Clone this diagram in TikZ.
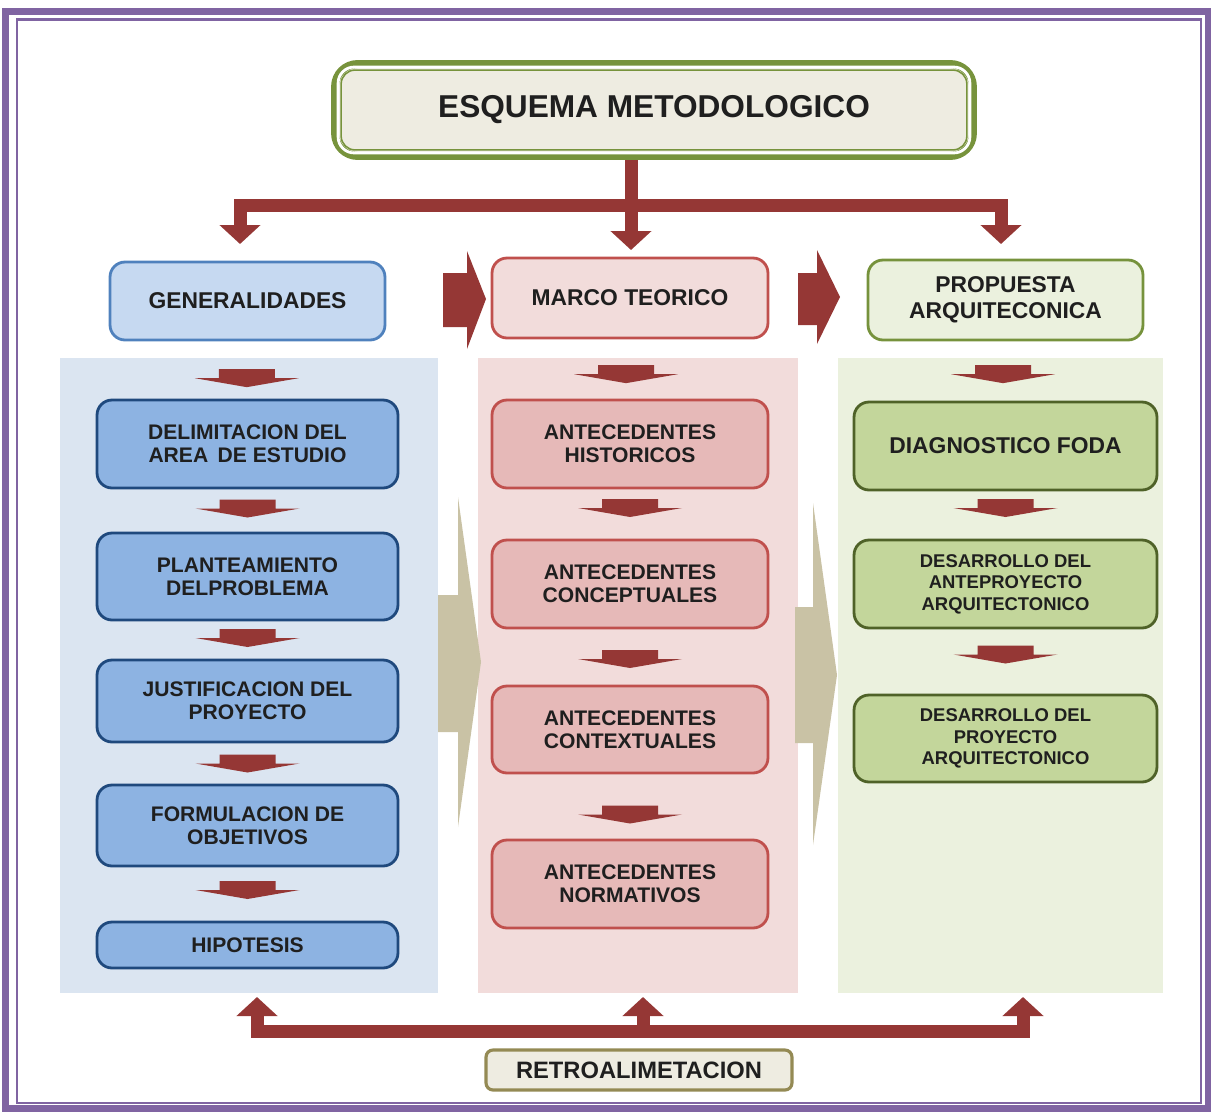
\documentclass[tikz,border=0pt]{standalone}
\usepackage{fontspec}
\setmainfont{Liberation Sans}
\usetikzlibrary{arrows.meta,calc}
\definecolor{purp}{HTML}{8064A2}
\definecolor{arrred}{HTML}{953735}
\definecolor{titlegreen}{HTML}{77933C}
\definecolor{titlefill}{HTML}{EEECE1}
\definecolor{bluepanel}{HTML}{DBE5F1}
\definecolor{bluehead}{HTML}{C6D9F1}
\definecolor{blueheadline}{HTML}{4F81BD}
\definecolor{bluebox}{HTML}{8DB3E2}
\definecolor{blueline}{HTML}{1F497D}
\definecolor{pinkpanel}{HTML}{F2DCDB}
\definecolor{pinkhead}{HTML}{F2DCDB}
\definecolor{pinkbox}{HTML}{E6B9B8}
\definecolor{pinkline}{HTML}{C0504D}
\definecolor{greenpanel}{HTML}{EBF1DE}
\definecolor{greenhead}{HTML}{EBF1DE}
\definecolor{greenbox}{HTML}{C3D69B}
\definecolor{greenline}{HTML}{4F6228}
\definecolor{greenheadline}{HTML}{76923C}
\definecolor{tan}{HTML}{C9C2A5}
\definecolor{retrofill}{HTML}{EEECE1}
\definecolor{retroline}{HTML}{948A54}
\tikzset{redtip/.tip={Triangle[width=0.8cm,length=0.38cm]}}
\begin{document}
\begin{tikzpicture}[x=0.02cm,y=-0.02cm,
  txt/.style={text=black!88},
  panel/.style={draw=none,inner sep=0},
  rbox/.style={rounded corners=0.3cm,line width=1.6pt,inner sep=0,align=center,txt,
    font=\bfseries\fontsize{12}{13.3}\selectfont},
  hbox/.style={rbox,font=\bfseries\fontsize{13}{14.8}\selectfont},
  bluehd/.style={hbox,fill=bluehead,draw=blueheadline},
  pinkhd/.style={hbox,fill=pinkhead,draw=pinkline},
  greenhd/.style={hbox,fill=greenhead,draw=greenheadline},
  bluebx/.style={rbox,fill=bluebox,draw=blueline,minimum width=6.02cm},
  pinkbx/.style={rbox,fill=pinkbox,draw=pinkline,minimum width=5.52cm},
  greenbx/.style={rbox,fill=greenbox,draw=greenline,minimum width=6.06cm},
  redline/.style={draw=arrred,line width=0.26cm,line join=miter},
  downarr/.pic={\fill[arrred] (-28,-9) -- (28,-9) -- (28,0) -- (52,0) -- (0,9) -- (-52,0) -- (-28,0) -- cycle;}
]
\useasboundingbox (0,0) rectangle (1211,1112);
% frame
\draw[purp,line width=4pt] (5.5,11.5) rectangle (1208.5,1109);
\draw[purp,line width=1.2pt] (17,19.5) rectangle (1201,1103);

% title
\node[rounded corners=0.45cm,draw=titlegreen,line width=4.5pt,fill=titlefill,
  minimum width=12.76cm,minimum height=1.84cm,inner sep=0] (title) at (654,110) {};
\draw[white,line width=1.6pt,rounded corners=0.32cm] ($(title.south west)+(7,-7)$) rectangle ($(title.north east)+(-7,7)$);
\draw[titlegreen,line width=0.9pt,rounded corners=0.28cm] ($(title.south west)+(10,-10)$) rectangle ($(title.north east)+(-10,10)$);
\node[txt,font=\bfseries\fontsize{18}{20}\selectfont] (titletxt) at (title.center) {ESQUEMA METODOLOGICO};

% panels
\node[panel,fill=bluepanel,minimum width=7.56cm,minimum height=12.7cm] (pblue) at (249,675.5) {};
\node[panel,fill=pinkpanel,minimum width=6.4cm,minimum height=12.7cm] (ppink) at (638,675.5) {};
\node[panel,fill=greenpanel,minimum width=6.5cm,minimum height=12.7cm] (pgreen) at (1000.5,675.5) {};

% headers
\node[bluehd,minimum width=5.5cm,minimum height=1.56cm] (gen) at (247.5,301) {GENERALIDADES};
\node[pinkhd,minimum width=5.52cm,minimum height=1.6cm] (marco) at (630,298) {MARCO TEORICO};
\node[greenhd,minimum width=5.5cm,minimum height=1.6cm] (prop) at (1005.5,300) {PROPUESTA\\ARQUITECONICA};

% blue boxes
\node[bluebx,minimum height=1.76cm] (b1) at (247.5,444) {DELIMITACION DEL\\AREA\, DE ESTUDIO};
\node[bluebx,minimum height=1.74cm] (b2) at (247.5,576.5) {PLANTEAMIENTO\\DELPROBLEMA};
\node[bluebx,minimum height=1.64cm] (b3) at (247.5,701) {JUSTIFICACION DEL\\PROYECTO};
\node[bluebx,minimum height=1.62cm] (b4) at (247.5,825.5) {FORMULACION DE\\OBJETIVOS};
\node[bluebx,minimum height=0.92cm] (b5) at (247.5,945) {HIPOTESIS};

% pink boxes
\node[pinkbx,minimum height=1.76cm] (p1) at (630,444) {ANTECEDENTES\\HISTORICOS};
\node[pinkbx,minimum height=1.76cm] (p2) at (630,584) {ANTECEDENTES\\CONCEPTUALES};
\node[pinkbx,minimum height=1.74cm] (p3) at (630,729.5) {ANTECEDENTES\\CONTEXTUALES};
\node[pinkbx,minimum height=1.76cm] (p4) at (630,884) {ANTECEDENTES\\NORMATIVOS};

% green boxes
\node[greenbx,minimum height=1.76cm,font=\bfseries\fontsize{13}{14}\selectfont] (g1) at (1005.5,446) {DIAGNOSTICO FODA};
\node[greenbx,minimum height=1.76cm,font=\bfseries\fontsize{10.5}{12.2}\selectfont] (g2) at (1005.5,584) {DESARROLLO DEL\\ANTEPROYECTO\\ARQUITECTONICO};
\node[greenbx,minimum height=1.74cm,font=\bfseries\fontsize{10.5}{12.2}\selectfont] (g3) at (1005.5,738.5) {DESARROLLO DEL\\PROYECTO\\ARQUITECTONICO};

% small down arrows
\pic at ($(pblue.north)!0.5!(b1.north)+(-1.5,0)$) {downarr};
\pic at ($(b1.south)!0.5!(b2.north)+(0,-2)$) {downarr};
\pic at ($(b2.south)!0.5!(b3.north)+(0,-2)$) {downarr};
\pic at ($(b3.south)!0.5!(b4.north)$) {downarr};
\pic at ($(b4.south)!0.5!(b5.north)+(0,-4)$) {downarr};
\pic at ($(ppink.north)!0.5!(p1.north)+(-8,-4)$) {downarr};
\pic at ($(p1.south)!0.5!(p2.north)+(0,-6)$) {downarr};
\pic at ($(p2.south)!0.5!(p3.north)+(0,2)$) {downarr};
\pic at ($(p3.south)!0.5!(p4.north)+(0,8)$) {downarr};
\pic at ($(pgreen.north)!0.5!(g1.north)+(0,-5)$) {downarr};
\pic at ($(g1.south)!0.5!(g2.north)+(0,-7)$) {downarr};
\pic at ($(g2.south)!0.5!(g3.north)+(0,-7)$) {downarr};

% big red right arrows between headers
\fill[arrred] (443,273) -- (467,273) -- (467,251) -- (486,299) -- (467,349) -- (467,327) -- (443,327) -- cycle;
\fill[arrred] (798,273) -- (817,273) -- (817,250) -- (840,297) -- (817,344) -- (817,325) -- (798,325) -- cycle;

% tan arrows between panels
\fill[tan] (438,595) -- (458,595) -- (458,497) -- (481,662) -- (458,827) -- (458,732) -- (438,732) -- cycle;
\fill[tan] (795,607) -- (813,607) -- (813,503) -- (837,675) -- (813,845) -- (813,743) -- (795,743) -- cycle;

% top distribution connector
\coordinate (jt) at (631,205.5);
\coordinate (cl) at (240,205.5);
\coordinate (cr) at (1001,205.5);
\coordinate (tl) at (240,244);
\coordinate (tm) at (631,250);
\coordinate (tr) at (1001,244);
\draw[redline,-{redtip}] (title.south -| jt) -- (tm);
\draw[redline,{redtip}-{redtip}] (tl) -- (cl) -- (cr) -- (tr);

% bottom feedback connector
\node[rounded corners=0.14cm,draw=retroline,line width=1.8pt,fill=retrofill,
  minimum width=6.12cm,minimum height=0.8cm,inner sep=0,txt,
  font=\bfseries\fontsize{13.5}{15}\selectfont] (retro) at (639,1070) {RETROALIMETACION};
\coordinate (bl) at (257,1031);
\coordinate (bm) at (643,1031);
\coordinate (br) at (1023,1031);
\coordinate (ul) at (257,997);
\coordinate (um) at (643,997);
\coordinate (ur) at (1023,997);
\draw[redline,{redtip}-{redtip}] (ul) -- (bl) -- (br) -- (ur);
\draw[redline,-{redtip}] (bm) -- (um);
\end{tikzpicture}
\end{document}
